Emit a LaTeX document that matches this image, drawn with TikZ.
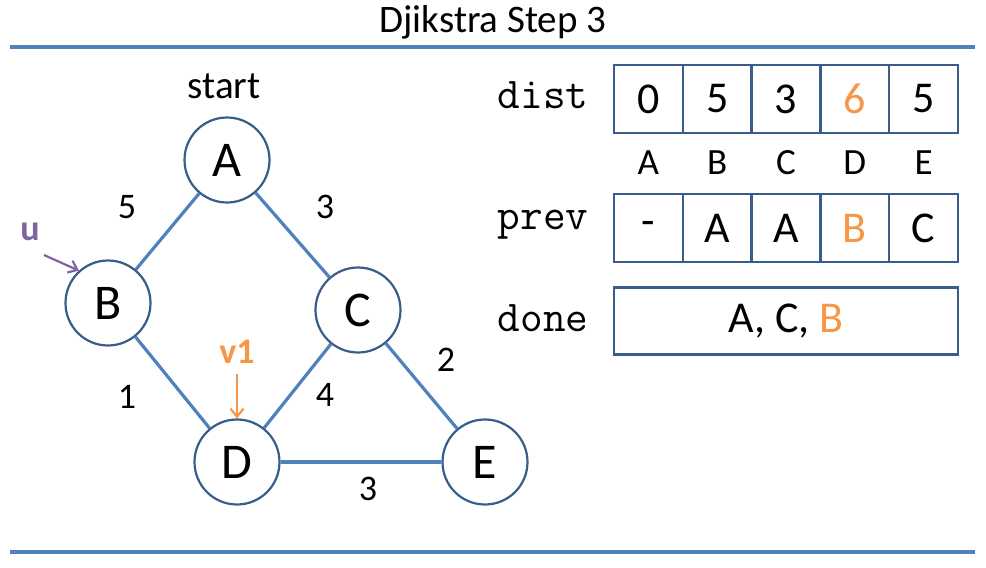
\documentclass[tikz,border=0pt]{standalone}
\usepackage{fontspec}
\setmainfont{Carlito}
\usetikzlibrary{arrows.meta}
\definecolor{edgeblue}{HTML}{4F81BD}
\definecolor{ringblue}{HTML}{385D8A}
\definecolor{accorange}{HTML}{F79646}
\definecolor{accpurple}{HTML}{8064A2}
\begin{document}
\begin{tikzpicture}[x=1pt,y=-1pt,
  vtx/.style={circle,draw=ringblue,line width=2.2pt,fill=white,minimum size=85pt,inner sep=0pt,font=\fontsize{50}{50}\selectfont},
  edge/.style={draw=edgeblue,line width=3.2pt},
  wlabel/.style={font=\fontsize{36}{36}\selectfont},
  cell/.style={draw=ringblue,line width=2.4pt,minimum width=68.8pt,minimum height=68pt,inner sep=0pt,font=\fontsize{44}{44}\selectfont},
  hdr/.style={font=\fontsize{37}{37}\selectfont},
  mono/.style={font=\ttfamily\fontsize{44}{44}\selectfont},
  rule/.style={draw=edgeblue,line width=3.5pt},
  marker/.style={line width=2.2pt,-{Straight Barb[length=8pt,width=13pt,line width=2.2pt]}}]
\useasboundingbox (0,0) rectangle (986,568);
% title and rules
\node[font=\fontsize{39}{39}\selectfont] (title) at (493,22) {Djikstra Step 3};
\coordinate (tl) at (10,47); \coordinate (tr) at (975,47);
\coordinate (bl) at (10,552); \coordinate (br) at (975,552);
\draw[rule] (tl) -- (tr);
\draw[rule] (bl) -- (br);
% graph
\node[vtx] (A) at (227,160) {A};
\node[vtx] (B) at (108,303) {B};
\node[vtx] (C) at (358,310) {C};
\node[vtx] (D) at (237,462) {D};
\node[vtx] (E) at (485,462) {E};
\path[edge] (A) -- (B);
\path[edge] (A) -- (C);
\path[edge] (B) -- (D);
\path[edge] (C) -- (D);
\path[edge] (C) -- (E);
\path[edge] (D) -- (E);
\node[font=\fontsize{39}{39}\selectfont] (start) at (224,86) {start};
\node[wlabel] (w1) at (127,207) {5};
\node[wlabel] (w2) at (325,207) {3};
\node[wlabel] (w3) at (127,397) {1};
\node[wlabel] (w4) at (325,395) {4};
\node[wlabel] (w5) at (446,360) {2};
\node[wlabel] (w6) at (368,489) {3};
% markers
\node[font=\bfseries\fontsize{36}{36}\selectfont,text=accpurple] (u) at (30,232) {u};
\coordinate (us) at (44,255);
\draw[marker,accpurple] (us) -- (B.132);
\node[font=\bfseries\fontsize{36}{36}\selectfont,text=accorange] (v) at (237,352) {v1};
\coordinate (vs) at (237,374);
\draw[marker,accorange] (vs) -- (D.north);
% table
\node[mono] (ldist) at (543,95) {dist};
\node[mono] (lprev) at (543,225) {prev};
\node[mono] (ldone) at (543,318) {done};
\node[cell] (d1) at (648.4,99) {0};
\node[cell] (d2) at (717.2,99) {5};
\node[cell] (d3) at (786,99) {3};
\node[cell,text=accorange] (d4) at (854.8,99) {6};
\node[cell] (d5) at (923.6,99) {5};
\node[hdr] (h1) at (648.4,163) {A};
\node[hdr] (h2) at (717.2,163) {B};
\node[hdr] (h3) at (786,163) {C};
\node[hdr] (h4) at (854.8,163) {D};
\node[hdr] (h5) at (923.6,163) {E};
\node[cell] (p1) at (648.4,228) {-};
\node[cell] (p2) at (717.2,228) {A};
\node[cell] (p3) at (786,228) {A};
\node[cell,text=accorange] (p4) at (854.8,228) {B};
\node[cell] (p5) at (923.6,228) {C};
\node[cell,minimum width=344pt,minimum height=67pt] (done) at (786,321) {A, C, \textcolor{accorange}{B}};
\end{tikzpicture}
\end{document}
